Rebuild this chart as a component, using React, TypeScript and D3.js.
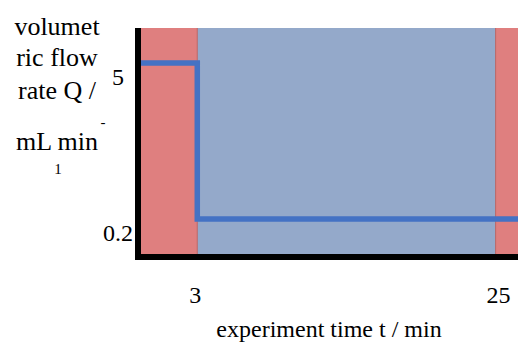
import React from 'react';
import * as d3 from 'd3';

// phases of the experiment (t in min)
const phaseStarts = [-1.15, 3, 25];
const phaseEnds = [3, 25, 26.65];
const phaseKinds = ['load', 'run', 'load'];

// flow rate steps: Q holds from each t until the next
const flowTimes = [-1.15, 3, 26.65];
const flowRates = [5, 0.2, 0.2];

const xTicks = [3, 25];
const yTicks = [5, 0.2];
const yLabelLines = ['volumet', 'ric flow', 'rate Q /', 'mL min'];

const W = 518;
const H = 342;
const font = "'Liberation Serif', 'Times New Roman', Times, 'DejaVu Serif', serif";

export default function App() {
  const x = d3.scaleLinear().domain([-1.15, 26.65]).range([141, 518]);
  const y = d3.scaleLog().domain([0.097, 10.3]).range([254, 28]);

  const phaseColor = d3
    .scaleOrdinal<string, string>()
    .domain(['load', 'run'])
    .range(['#df7f7f', '#94a9ca']);

  const pts = flowTimes.map((t, i) => [t, flowRates[i]] as [number, number]);
  const line = d3
    .line<[number, number]>()
    .x(d => x(d[0]))
    .y(d => y(d[1]))
    .curve(d3.curveStepAfter);

  return (
    <svg width={W} height={H} style={{position: 'absolute', left: 0, top: 0}}>
      <rect width={W} height={H} fill="#fff" />
      {phaseStarts.map((s, i) => (
        <rect
          key={i}
          x={x(s)}
          y={y(10.3)}
          width={x(phaseEnds[i]) - x(s)}
          height={y(0.097) - y(10.3)}
          fill={phaseColor(phaseKinds[i])}
        />
      ))}
      {xTicks.map(t => (
        <line key={t} x1={x(t)} x2={x(t)} y1={y(10.3)} y2={y(0.097)} stroke="#b86464" strokeWidth={1} />
      ))}
      <path d={line(pts) || ''} fill="none" stroke="#4472c4" strokeWidth={5.5} />

      {/* axes */}
      <line x1={138} x2={138} y1={28} y2={260} stroke="#000" strokeWidth={6} />
      <line x1={135} x2={518} y1={257} y2={257} stroke="#000" strokeWidth={6} />

      <g style={{fontFamily: font, fontSize: 24}} fill="#000">
        {yTicks.map(v => (
          <text key={v} x={118} y={y(v) + 22} textAnchor="middle">{v}</text>
        ))}
        {xTicks.map(t => (
          <text key={t} x={x(t) + (t > 10 ? 3 : -2)} y={303} textAnchor="middle">{t}</text>
        ))}
        <text x={329} y={337} textAnchor="middle">experiment time t / min</text>
      </g>

      <g style={{fontFamily: font, fontSize: 26}} fill="#000" textAnchor="middle">
        {yLabelLines.map((s, i) => (
          <text key={i} x={57} y={[35, 66, 99, 150][i]}>{s}</text>
        ))}
        <text x={103} y={127} style={{fontSize: 15}}>-</text>
        <text x={58} y={174} style={{fontSize: 15}}>1</text>
      </g>
    </svg>
  );
}
